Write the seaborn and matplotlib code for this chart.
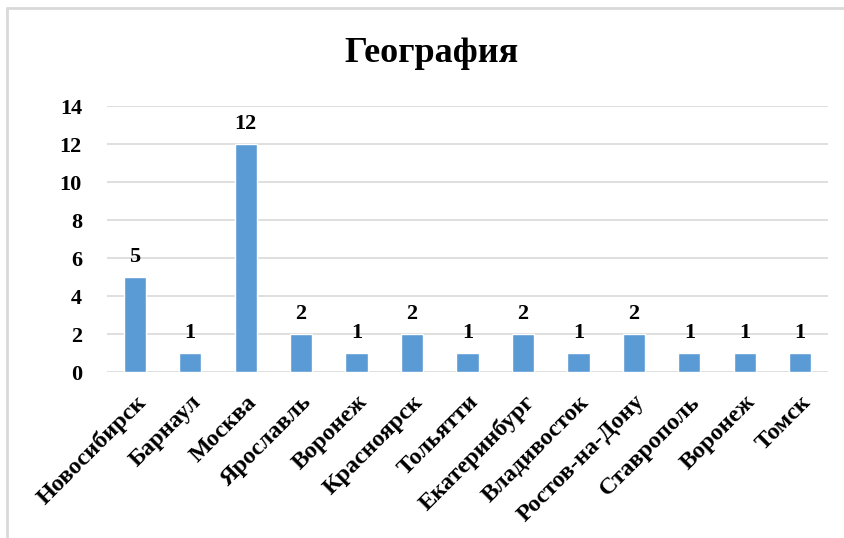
import matplotlib
matplotlib.use("Agg")
import matplotlib.pyplot as plt
import seaborn as sns
import pandas as pd
import numpy as np
from matplotlib.lines import Line2D

cities = ["Новосибирск", "Барнаул", "Москва", "Ярославль", "Воронеж", "Красноярск",
          "Тольятти", "Екатеринбург", "Владивосток", "Ростов-на-Дону", "Ставрополь",
          "Воронеж", "Томск"]
values = [5, 1, 12, 2, 1, 2, 1, 2, 1, 2, 1, 1, 1]
yticks = [0, 2, 4, 6, 8, 10, 12, 14]
title = "География"

sns.set_theme(style="white")
plt.rcParams['font.family'] = ['Liberation Serif', 'DejaVu Serif']
plt.rcParams['font.weight'] = 'bold'
plt.rcParams['text.color'] = 'black'
plt.rcParams['xtick.color'] = 'black'
plt.rcParams['ytick.color'] = 'black'

df = pd.DataFrame({"pos": np.arange(len(cities)), "value": values})

fig = plt.figure(figsize=(8.45, 5.38), dpi=100)
ax = fig.add_axes([107/845, 1-372/538, (828-107)/845, (372-106)/538])

sns.barplot(data=df, x="pos", y="value", color="#5B9BD5", width=0.4,
            saturation=1, ax=ax, zorder=3)

ax.set_ylim(0, 14)
ax.set_xlim(-0.5, len(cities)-0.5)
ax.set_yticks(yticks)
ax.set_yticklabels([str(t) for t in yticks], fontsize=16, fontweight='bold')
ax.grid(axis='y', color='#d9d9d9', linewidth=1.2, zorder=0)
ax.grid(axis='x', visible=False)
for s in ax.spines.values():
    s.set_visible(False)
ax.tick_params(axis='x', length=0, pad=14)
ax.tick_params(axis='y', length=0, pad=18)

ax.set_xticks(np.arange(len(cities)))
ax.set_xticklabels(cities, rotation=45, ha='right', rotation_mode='anchor',
                   fontsize=17.5, fontweight='bold')
ax.set_xlabel("")
ax.set_ylabel("")

for c in ax.containers:
    ax.bar_label(c, labels=[str(v) for v in values], padding=7, fontsize=16,
                 fontweight='bold')

fig.text(432/845, 1-54/538, title, ha='center', va='center', fontsize=26,
         fontweight='bold')

fig.add_artist(Line2D([7/845, 1], [1-8/538, 1-8/538], transform=fig.transFigure,
                      color='#d9d9d9', linewidth=2))
fig.add_artist(Line2D([7/845, 7/845], [0, 1-8/538], transform=fig.transFigure,
                      color='#d9d9d9', linewidth=2))

fig.savefig("out.png", dpi=100)
